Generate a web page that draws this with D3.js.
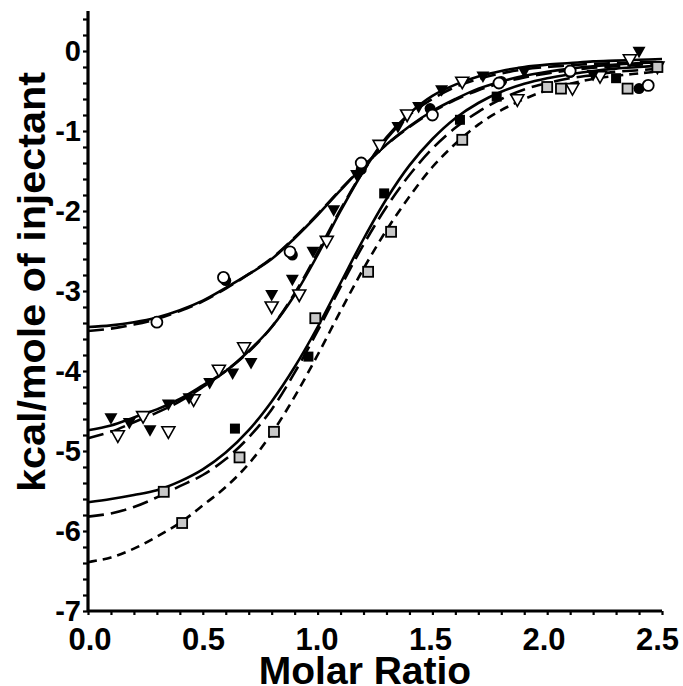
<!DOCTYPE html>
<html>
<head>
<meta charset="utf-8">
<script src="https://cdn.jsdelivr.net/npm/d3@7"></script>
<style>
  body { margin: 0; background: #fff; }
  svg { display: block; }
</style>
</head>
<body>
<div id="my_dataviz"></div>
<script>
// fitted curves at every 0.1 of molar ratio
const curveX = [0.0, 0.1, 0.2, 0.3, 0.4, 0.5, 0.6, 0.7, 0.8, 0.9, 1.0, 1.1, 1.2,
                1.3, 1.4, 1.5, 1.6, 1.7, 1.8, 1.9, 2.0, 2.1, 2.2, 2.3, 2.4, 2.5];

const circleFitSolid = [-3.45, -3.43, -3.39, -3.33, -3.24, -3.12, -2.96, -2.79, -2.60, -2.34, -2.05, -1.74, -1.44,
                        -1.17, -0.94, -0.75, -0.60, -0.47, -0.38, -0.31, -0.26, -0.22, -0.19, -0.17, -0.15, -0.14];
const circleFitDashed = [-3.50, -3.47, -3.42, -3.35, -3.25, -3.13, -2.97, -2.79, -2.59, -2.33, -2.04, -1.73, -1.44,
                         -1.17, -0.95, -0.76, -0.61, -0.49, -0.40, -0.33, -0.28, -0.24, -0.21, -0.19, -0.17, -0.16];
const triFitSolid = [-4.74, -4.68, -4.58, -4.48, -4.35, -4.18, -4.00, -3.75, -3.45, -3.05, -2.55, -2.00, -1.50,
                     -1.08, -0.78, -0.56, -0.42, -0.32, -0.25, -0.20, -0.17, -0.15, -0.13, -0.12, -0.11, -0.10];
const triFitDashed = [-4.84, -4.76, -4.64, -4.52, -4.38, -4.20, -4.00, -3.76, -3.45, -3.03, -2.52, -1.98, -1.50,
                      -1.10, -0.80, -0.60, -0.45, -0.35, -0.28, -0.23, -0.20, -0.18, -0.16, -0.15, -0.14, -0.14];
const sqFitSolid = [-5.64, -5.60, -5.55, -5.49, -5.38, -5.23, -5.02, -4.74, -4.38, -3.95, -3.45, -2.90, -2.35,
                    -1.85, -1.43, -1.10, -0.84, -0.65, -0.51, -0.41, -0.34, -0.29, -0.25, -0.22, -0.20, -0.18];
const sqFitLong = [-5.82, -5.78, -5.70, -5.58, -5.44, -5.30, -5.10, -4.83, -4.48, -4.02, -3.50, -2.95, -2.42,
                   -1.95, -1.55, -1.22, -0.96, -0.76, -0.60, -0.48, -0.40, -0.34, -0.30, -0.26, -0.24, -0.22];
const sqFitShort = [-6.39, -6.33, -6.22, -6.07, -5.90, -5.68, -5.45, -5.16, -4.78, -4.32, -3.80, -3.25, -2.72,
                    -2.24, -1.82, -1.45, -1.16, -0.92, -0.74, -0.60, -0.49, -0.41, -0.35, -0.31, -0.28, -0.25];

// measured points [molar ratio, kcal/mole]
const openCircles = [[0.30, -3.39], [0.59, -2.83], [0.88, -2.51], [1.19, -1.40], [1.50, -0.80],
                     [1.79, -0.40], [2.10, -0.25], [2.44, -0.43]];
const filledCircles = [[0.60, -2.87], [0.89, -2.55], [1.19, -1.48], [1.49, -0.72], [1.80, -0.38],
                       [2.10, -0.27], [2.40, -0.47]];
const filledTriangles = [[0.10, -4.59], [0.18, -4.65], [0.27, -4.74], [0.35, -4.42], [0.44, -4.34],
                         [0.53, -4.15], [0.63, -4.03], [0.71, -3.90], [0.80, -3.05], [0.89, -2.86],
                         [0.98, -2.51], [1.07, -1.99], [1.17, -1.55], [1.35, -0.95], [1.44, -0.70],
                         [1.54, -0.49], [1.72, -0.32], [1.90, -0.26], [2.20, -0.30], [2.40, -0.01]];
const openTriangles = [[0.13, -4.81], [0.24, -4.57], [0.35, -4.76], [0.46, -4.36], [0.57, -3.99],
                       [0.68, -3.71], [0.80, -3.20], [0.92, -3.05], [1.04, -2.38], [1.27, -1.18],
                       [1.39, -0.80], [1.63, -0.39], [1.87, -0.61], [2.11, -0.47], [2.23, -0.32],
                       [2.36, -0.11], [2.48, -0.20]];
const filledSquares = [[0.64, -4.72], [0.96, -3.82], [1.29, -1.78], [1.62, -0.86], [1.78, -0.57],
                       [2.30, -0.34]];
const greySquaresLong = [[0.33, -5.51], [0.66, -5.08], [0.99, -3.34], [1.32, -2.26], [2.06, -0.47],
                         [2.35, -0.47], [2.48, -0.20]];
const greySquaresShort = [[0.41, -5.90], [0.81, -4.76], [1.22, -2.76], [1.63, -1.11], [2.00, -0.45]];

const xTicks = [0, 0.5, 1, 1.5, 2, 2.5];
const yTicks = [-7, -6, -5, -4, -3, -2, -1, 0];

const width = 683;
const height = 686;
const margin = {top: 11, right: 21, bottom: 75, left: 88};
const innerWidth = width - margin.left - margin.right;
const innerHeight = height - margin.top - margin.bottom;

const fontFamily = '"Liberation Sans", Arial, Helvetica, sans-serif';

const xScale = d3.scaleLinear().domain([0, 2.5]).range([0, innerWidth]);
const yScale = d3.scaleLinear().domain([-7, 0.5]).range([innerHeight, 0]);

const svg = d3.select('#my_dataviz')
    .append('svg')
        .attr('width', width)
        .attr('height', height);

const g = svg.append('g')
    .attr('transform', `translate(${margin.left},${margin.top})`);

// fitted lines
const fits = [
    {vals: circleFitSolid, dash: null},
    {vals: circleFitDashed, dash: '16,7'},
    {vals: triFitSolid, dash: null},
    {vals: triFitDashed, dash: '16,7'},
    {vals: sqFitSolid, dash: null},
    {vals: sqFitLong, dash: '16,7'},
    {vals: sqFitShort, dash: '9,6'}
];

const line = d3.line()
    .x(d => xScale(d[0]))
    .y(d => yScale(d[1]))
    .curve(d3.curveCatmullRom);

g.selectAll('.fit')
    .data(fits)
    .join('path')
        .attr('class', 'fit')
        .attr('fill', 'none')
        .attr('stroke', 'black')
        .attr('stroke-width', 2.6)
        .attr('stroke-dasharray', d => d.dash)
        .attr('d', d => line(curveX.map((x, i) => [x, d.vals[i]])));

// markers
const triPath = d => {
    const x = xScale(d[0]), y = yScale(d[1]);
    return `M${x - 6.5},${y - 5} L${x + 6.5},${y - 5} L${x},${y + 6.5} Z`;
};

g.selectAll('.tri-open')
    .data(openTriangles)
    .join('path')
        .attr('d', triPath)
        .attr('fill', 'white')
        .attr('stroke', 'black')
        .attr('stroke-width', 1.6);

g.selectAll('.tri-filled')
    .data(filledTriangles)
    .join('path')
        .attr('d', triPath)
        .attr('fill', 'black');

g.selectAll('.circ-filled')
    .data(filledCircles)
    .join('circle')
        .attr('cx', d => xScale(d[0]))
        .attr('cy', d => yScale(d[1]))
        .attr('r', 5.5)
        .attr('fill', 'black');

g.selectAll('.circ-open')
    .data(openCircles)
    .join('circle')
        .attr('cx', d => xScale(d[0]))
        .attr('cy', d => yScale(d[1]))
        .attr('r', 5.5)
        .attr('fill', 'white')
        .attr('stroke', 'black')
        .attr('stroke-width', 1.8);

const sq = 10;
g.selectAll('.sq-grey')
    .data(greySquaresLong.concat(greySquaresShort))
    .join('rect')
        .attr('x', d => xScale(d[0]) - sq / 2)
        .attr('y', d => yScale(d[1]) - sq / 2)
        .attr('width', sq)
        .attr('height', sq)
        .attr('fill', '#c8c8c8')
        .attr('stroke', 'black')
        .attr('stroke-width', 1.8);

g.selectAll('.sq-filled')
    .data(filledSquares)
    .join('rect')
        .attr('x', d => xScale(d[0]) - sq / 2)
        .attr('y', d => yScale(d[1]) - sq / 2)
        .attr('width', sq)
        .attr('height', sq)
        .attr('fill', 'black');

// axes
const xAxis = g.append('g')
    .attr('transform', `translate(0, ${innerHeight})`);

xAxis.call(d3.axisBottom(xScale).tickValues(d3.range(0, 2.51, 0.1)).tickSize(4).tickFormat(''))
    .call(a => a.select('.domain').attr('stroke-width', 3.2).attr('d', `M0,0H${innerWidth}`))
    .call(a => a.selectAll('.tick line').attr('stroke-width', 2.2));

// labels sit a little closer together than the ticks in the original
xAxis.selectAll('.xlab')
    .data(xTicks)
    .join('text')
        .attr('x', d => xScale(d) + 2 - d * 2.6)
        .attr('y', 39)
        .attr('text-anchor', 'middle')
        .style('font-family', fontFamily)
        .style('font-weight', 'bold')
        .style('font-size', '31px')
        .attr('fill', 'black')
        .text(d => d3.format('.1f')(d));

xAxis.append('text')
    .attr('x', 277)
    .attr('y', 73)
    .attr('text-anchor', 'middle')
    .style('font-family', fontFamily)
    .style('font-weight', 'bold')
    .style('font-size', '39px')
    .attr('fill', 'black')
    .text('Molar Ratio');

const yAxis = g.append('g');

yAxis.call(d3.axisLeft(yScale).tickValues(d3.range(-7, 0.51, 0.2)).tickSize(5).tickFormat(''))
    .call(a => a.select('.domain').attr('stroke-width', 3.2).attr('d', `M0,${innerHeight}V0`))
    .call(a => a.selectAll('.tick line').attr('stroke-width', 2.2));

yAxis.selectAll('.ylab')
    .data(yTicks)
    .join('text')
        .attr('x', -7)
        .attr('y', d => yScale(d))
        .attr('dy', '0.36em')
        .attr('text-anchor', 'end')
        .style('font-family', fontFamily)
        .style('font-weight', 'bold')
        .style('font-size', '29px')
        .attr('fill', 'black')
        .text(d => d);

yAxis.append('text')
    .attr('transform', `translate(-43, ${271}) rotate(-90)`)
    .attr('text-anchor', 'middle')
    .attr('textLength', 420)
    .attr('lengthAdjust', 'spacingAndGlyphs')
    .style('font-family', fontFamily)
    .style('font-weight', 'bold')
    .style('font-size', '38px')
    .attr('fill', 'black')
    .text('kcal/mole of injectant');
</script>
</body>
</html>
